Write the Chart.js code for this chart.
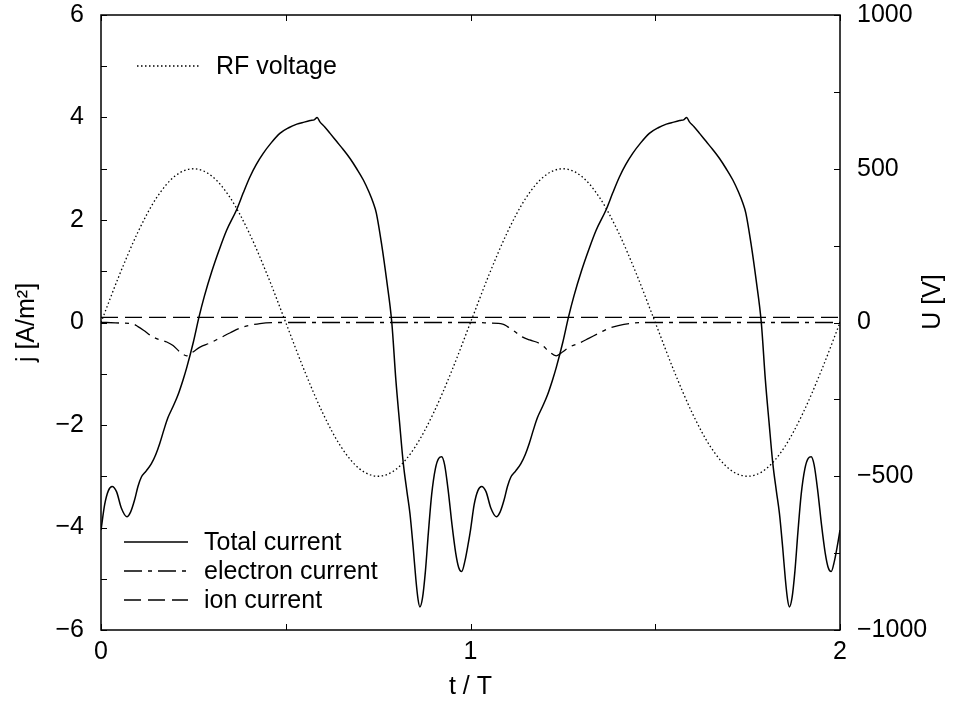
<!DOCTYPE html>
<html>
<head>
<meta charset="utf-8">
<script src="https://cdn.jsdelivr.net/npm/chart.js@4.4.1/dist/chart.umd.min.js"></script>
<style>
  html, body { margin: 0; padding: 0; background: #fff; }
  #wrap { width: 976px; height: 704px; position: relative; }
</style>
</head>
<body>
<div id="wrap"><canvas id="myChart"></canvas></div>
<script>
// time in units of the RF period T
const tTotal = [
  0, 0.01, 0.02, 0.03, 0.042, 0.055, 0.07, 0.08, 0.091, 0.1,
  0.109, 0.122, 0.136, 0.148, 0.159, 0.17, 0.181, 0.195, 0.208, 0.222,
  0.232, 0.25, 0.265, 0.28, 0.3, 0.32, 0.34, 0.367, 0.385, 0.403,
  0.42, 0.439, 0.46, 0.484, 0.508, 0.53, 0.55, 0.566, 0.578, 0.585,
  0.592, 0.605, 0.62, 0.638, 0.655, 0.674, 0.692, 0.71, 0.725, 0.737,
  0.745, 0.76, 0.773, 0.787, 0.798, 0.808, 0.818, 0.828, 0.836, 0.845,
  0.852, 0.858, 0.863, 0.87, 0.878, 0.886, 0.895, 0.905, 0.914, 0.922,
  0.93, 0.94, 0.95, 0.96, 0.968, 0.976, 0.985, 0.993,
  1.0, 1.01, 1.02, 1.03, 1.042, 1.055, 1.07, 1.08, 1.091, 1.1,
  1.109, 1.122, 1.136, 1.148, 1.159, 1.17, 1.181, 1.195, 1.208, 1.222,
  1.232, 1.25, 1.265, 1.28, 1.3, 1.32, 1.34, 1.367, 1.385, 1.403,
  1.42, 1.439, 1.46, 1.484, 1.508, 1.53, 1.55, 1.566, 1.578, 1.585,
  1.592, 1.605, 1.62, 1.638, 1.655, 1.674, 1.692, 1.71, 1.725, 1.737,
  1.745, 1.76, 1.773, 1.787, 1.798, 1.808, 1.818, 1.828, 1.836, 1.845,
  1.852, 1.858, 1.863, 1.87, 1.878, 1.886, 1.895, 1.905, 1.914, 1.922,
  1.93, 1.94, 1.95, 1.96, 1.968, 1.976, 1.985, 1.993, 2.0
];
const jTotal = [
  -4.05, -3.55, -3.28, -3.20, -3.30, -3.62, -3.79, -3.70, -3.46, -3.20,
  -3.02, -2.90, -2.76, -2.58, -2.36, -2.10, -1.86, -1.64, -1.42, -1.12,
  -0.88, -0.38, 0.10, 0.52, 1.00, 1.42, 1.80, 2.20, 2.53, 2.84,
  3.08, 3.30, 3.50, 3.69, 3.80, 3.87, 3.91, 3.94, 3.96, 4.00,
  3.92, 3.82, 3.69, 3.53, 3.38, 3.20, 3.00, 2.78, 2.55, 2.33,
  2.14, 1.50, 0.83, 0.00, -1.12, -1.95, -2.74, -3.30, -3.72, -4.40,
  -5.00, -5.40, -5.55, -5.38, -4.85, -4.10, -3.35, -2.85, -2.65, -2.62,
  -2.78, -3.30, -3.95, -4.50, -4.78, -4.86, -4.65, -4.35,
  -4.05, -3.55, -3.28, -3.20, -3.30, -3.62, -3.79, -3.70, -3.46, -3.20,
  -3.02, -2.90, -2.76, -2.58, -2.36, -2.10, -1.86, -1.64, -1.42, -1.12,
  -0.88, -0.38, 0.10, 0.52, 1.00, 1.42, 1.80, 2.20, 2.53, 2.84,
  3.08, 3.30, 3.50, 3.69, 3.80, 3.87, 3.91, 3.94, 3.96, 4.00,
  3.92, 3.82, 3.69, 3.53, 3.38, 3.20, 3.00, 2.78, 2.55, 2.33,
  2.14, 1.50, 0.83, 0.00, -1.12, -1.95, -2.74, -3.30, -3.72, -4.40,
  -5.00, -5.40, -5.55, -5.38, -4.85, -4.10, -3.35, -2.85, -2.65, -2.62,
  -2.78, -3.30, -3.95, -4.50, -4.78, -4.86, -4.65, -4.35, -4.05
];

const tElectron = [
  0, 0.015, 0.05, 0.087, 0.1, 0.115, 0.14, 0.16, 0.178, 0.195, 0.213, 0.232,
  0.25, 0.268, 0.295, 0.32, 0.35, 0.376, 0.4, 0.43, 0.48, 0.6, 0.8,
  1.0, 1.015, 1.05, 1.087, 1.1, 1.115, 1.14, 1.16, 1.178, 1.195, 1.213, 1.232,
  1.25, 1.268, 1.295, 1.32, 1.35, 1.376, 1.4, 1.43, 1.48, 1.6, 1.8, 2.0
];
const jElectron = [
  0, 0, -0.01, -0.03, -0.08, -0.15, -0.28, -0.34, -0.38, -0.45, -0.57, -0.65,
  -0.57, -0.48, -0.40, -0.31, -0.20, -0.11, -0.06, -0.02, 0, 0, 0,
  0, 0, -0.01, -0.03, -0.08, -0.15, -0.28, -0.34, -0.38, -0.45, -0.57, -0.65,
  -0.57, -0.48, -0.40, -0.31, -0.20, -0.11, -0.06, -0.02, 0, 0, 0, 0
];

const tIon = [0, 2];
const jIon = [0.1, 0.1];

const tRF = [
  0, 0.05, 0.1, 0.15, 0.2, 0.25, 0.3, 0.35, 0.4, 0.45,
  0.5, 0.55, 0.6, 0.65, 0.7, 0.75, 0.8, 0.85, 0.9, 0.95,
  1.0, 1.05, 1.1, 1.15, 1.2, 1.25, 1.3, 1.35, 1.4, 1.45,
  1.5, 1.55, 1.6, 1.65, 1.7, 1.75, 1.8, 1.85, 1.9, 1.95, 2.0
];
const uRF = [
  0, 155, 294, 405, 476, 500, 476, 405, 294, 155,
  0, -155, -294, -405, -476, -500, -476, -405, -294, -155,
  0, 155, 294, 405, 476, 500, 476, 405, 294, 155,
  0, -155, -294, -405, -476, -500, -476, -405, -294, -155, 0
];

// tick labels that are actually printed
const tLabels = [0, 1, 2];
const jLabels = [-6, -4, -2, 0, 2, 4, 6];
const uLabels = [-1000, -500, 0, 500, 1000];

const pairs = (xs, ys) => xs.map((x, i) => ({ x: x, y: ys[i] }));
const minus = (v) => String(v).replace('-', '\u2212');

Chart.defaults.font.family = "'Liberation Sans', Arial, Helvetica, sans-serif";
Chart.defaults.font.size = 25;
Chart.defaults.color = '#000';

// fixed axis sizes so the plot box sits where the original one does
const fixVertical = (w) => (s) => {
  s.width = w;
  s.paddingTop = 15;
  s.paddingBottom = 15;
};

// frame, inward tick marks, the two keys and the right axis title
const frameAndKey = {
  id: 'frameAndKey',
  afterDatasetsDraw(chart) {
    const { ctx, chartArea: a, scales } = chart;
    ctx.save();
    ctx.strokeStyle = '#000';
    ctx.lineWidth = 1;
    ctx.setLineDash([]);
    ctx.beginPath();
    scales.y.ticks.forEach((t) => {
      const p = Math.round(scales.y.getPixelForValue(t.value)) + 0.5;
      ctx.moveTo(a.left, p);
      ctx.lineTo(a.left + 6, p);
    });
    scales.y2.ticks.forEach((t) => {
      const p = Math.round(scales.y2.getPixelForValue(t.value)) + 0.5;
      ctx.moveTo(a.right, p);
      ctx.lineTo(a.right - 6, p);
    });
    scales.x.ticks.forEach((t) => {
      const p = Math.round(scales.x.getPixelForValue(t.value)) + 0.5;
      ctx.moveTo(p, a.bottom);
      ctx.lineTo(p, a.bottom - 6);
      ctx.moveTo(p, a.top);
      ctx.lineTo(p, a.top + 6);
    });
    ctx.stroke();

    ctx.lineWidth = 1.5;
    ctx.strokeRect(a.left, a.top, a.right - a.left, a.bottom - a.top);

    // key rows: dataset index, sample start/end, row y
    const rows = [
      { ds: 3, x1: 137, x2: 200, y: 66 },
      { ds: 0, x1: 124, x2: 188, y: 542 },
      { ds: 1, x1: 124, x2: 188, y: 571 },
      { ds: 2, x1: 124, x2: 188, y: 600 }
    ];
    ctx.font = "25px 'Liberation Sans', Arial, sans-serif";
    ctx.fillStyle = '#000';
    ctx.textBaseline = 'middle';
    ctx.textAlign = 'left';
    rows.forEach((r) => {
      const d = chart.data.datasets[r.ds];
      ctx.lineWidth = d.borderWidth;
      ctx.setLineDash(d.borderDash || []);
      ctx.beginPath();
      ctx.moveTo(r.x1, r.y);
      ctx.lineTo(r.x2, r.y);
      ctx.stroke();
      ctx.fillText(d.label, r.x2 + 16, r.y + 1);
    });

    ctx.translate(933, 302);
    ctx.rotate(-Math.PI / 2);
    ctx.textAlign = 'center';
    ctx.fillText('U [V]', 0, 0);
    ctx.restore();
  }
};

const config = {
  type: 'line',
  data: {
    datasets: [
      {
        label: 'Total current',
        data: pairs(tTotal, jTotal),
        yAxisID: 'y',
        borderColor: '#000',
        borderWidth: 1.5,
        pointRadius: 0,
        cubicInterpolationMode: 'monotone'
      },
      {
        label: 'electron current',
        data: pairs(tElectron, jElectron),
        yAxisID: 'y',
        borderColor: '#000',
        borderWidth: 1.3,
        borderDash: [18, 6, 4, 6],
        pointRadius: 0,
        cubicInterpolationMode: 'monotone'
      },
      {
        label: 'ion current',
        data: pairs(tIon, jIon),
        yAxisID: 'y',
        borderColor: '#000',
        borderWidth: 1.3,
        borderDash: [17, 7],
        pointRadius: 0
      },
      {
        label: 'RF voltage',
        data: pairs(tRF, uRF),
        yAxisID: 'y2',
        borderColor: '#000',
        borderWidth: 1.3,
        borderDash: [1.5, 2.5],
        pointRadius: 0,
        cubicInterpolationMode: 'monotone'
      }
    ]
  },
  options: {
    responsive: true,
    maintainAspectRatio: false,
    animation: false,
    layout: { padding: 0 },
    plugins: {
      legend: { display: false },
      tooltip: { enabled: false }
    },
    scales: {
      x: {
        type: 'linear',
        min: 0,
        max: 2,
        grid: { display: false, drawTicks: false, tickLength: 0 },
        border: { display: false },
        ticks: {
          stepSize: 0.5,
          autoSkip: false,
          maxRotation: 0,
          padding: 7,
          callback: (v) => (tLabels.includes(v) ? minus(v) : '')
        },
        title: { display: true, text: 't / T', padding: { top: 0, bottom: 2 } },
        afterFit: (s) => { s.height = 74; }
      },
      y: {
        position: 'left',
        min: -6,
        max: 6,
        grid: { display: false, drawTicks: false, tickLength: 0 },
        border: { display: false },
        ticks: {
          stepSize: 1,
          autoSkip: false,
          padding: 17,
          callback: (v) => (jLabels.includes(v) ? minus(v) : '')
        },
        title: { display: true, text: 'j [A/m\u00b2]', padding: { top: 12, bottom: 0 } },
        afterFit: fixVertical(101)
      },
      y2: {
        position: 'right',
        min: -1000,
        max: 1000,
        grid: { display: false, drawTicks: false, tickLength: 0 },
        border: { display: false },
        ticks: {
          stepSize: 250,
          autoSkip: false,
          padding: 17,
          callback: (v) => (uLabels.includes(v) ? minus(v) : '')
        },
        afterFit: fixVertical(136)
      }
    }
  },
  plugins: [frameAndKey]
};

const myChart = new Chart(document.getElementById('myChart'), config);
</script>
</body>
</html>
